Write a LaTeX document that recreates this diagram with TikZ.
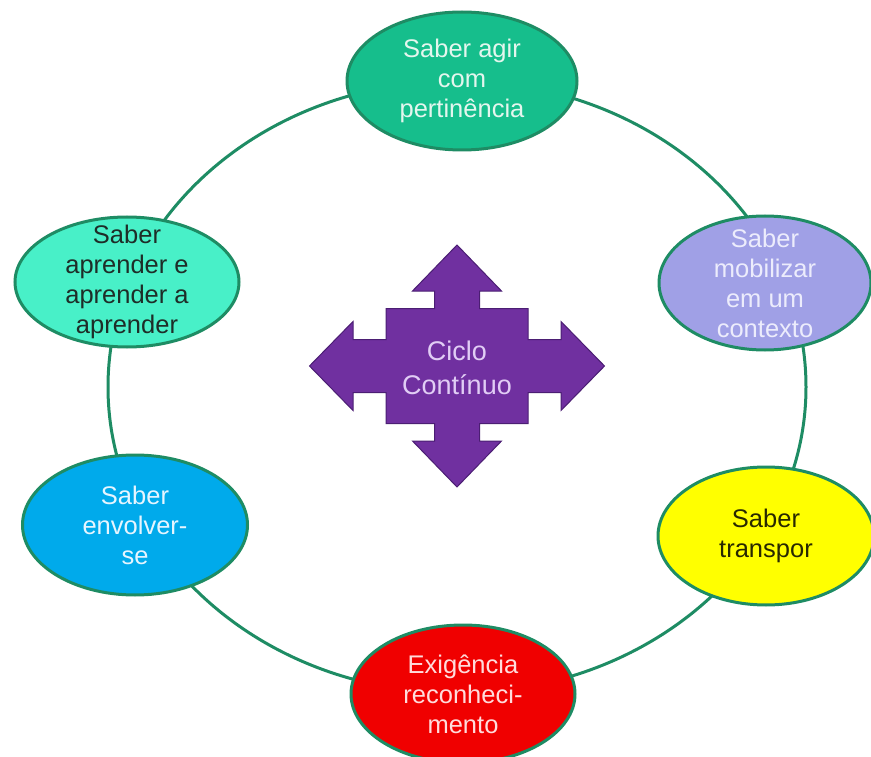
\documentclass[tikz,border=0pt]{standalone}
\usepackage{fontspec}
\setmainfont{Liberation Sans}
\usetikzlibrary{shapes.geometric}
\definecolor{anel}{RGB}{30,140,100}
\definecolor{agir}{RGB}{22,190,140}
\definecolor{aprender}{RGB}{72,240,200}
\definecolor{mobilizar}{RGB}{160,160,230}
\definecolor{envolver}{RGB}{0,170,235}
\definecolor{transpor}{RGB}{255,255,0}
\definecolor{exigencia}{RGB}{240,0,0}
\definecolor{seta}{RGB}{112,48,160}
\definecolor{setaborda}{RGB}{75,30,115}
\definecolor{claro}{RGB}{228,246,238}
\definecolor{escuro}{RGB}{30,45,40}
\tikzset{
  saber/.style={ellipse, draw=anel, line width=3pt, inner sep=0pt},
  rotulo/.style={align=center, font=\fontsize{25.5}{30}\selectfont},
}
\begin{document}
\begin{tikzpicture}[x=1pt,y=-1pt]

  \useasboundingbox (0,0) rectangle (871,757);

  %% ring
  \coordinate (meio) at (457,387);
  \draw[anel, line width=3pt] (meio) ellipse (349pt and 306pt);

  %% quad arrow
  \begin{scope}[shift={(457,366)}]
    \filldraw[fill=seta, draw=setaborda, line width=1pt]
    (0,-121) -- (44.5,-75) -- (22.5,-75) -- (22.5,-57.5) -- (71,-57.5)
    -- (71,-26.5) -- (104,-26.5) -- (104,-44.5) -- (147.5,0) %% right
    -- (104,44.5) -- (104,26.5) -- (71,26.5) -- (71,57.5)
    -- (22.5,57.5) -- (22.5,75) -- (44.5,75) -- (0,121) %% bottom
    -- (-44.5,75) -- (-22.5,75) -- (-22.5,57.5) -- (-71,57.5)
    -- (-71,26.5) -- (-104,26.5) -- (-104,44.5) -- (-147.5,0) %% left
    -- (-104,-44.5) -- (-104,-26.5) -- (-71,-26.5) -- (-71,-57.5)
    -- (-22.5,-57.5) -- (-22.5,-75) -- (-44.5,-75) -- cycle;
    \node[rotulo, font=\fontsize{27}{34}\selectfont,
    text={rgb,255:red,225;green,205;blue,245}] (ciclo) at (0,2)
    {Ciclo\\Contínuo};
  \end{scope}

  %% ellipses
  \node[saber, fill=agir, minimum width=230pt, minimum height=138pt,
  label={[rotulo,text=claro]center:Saber agir\\com\\pertinência}]
  (agir) at (462,81) {};
  \node[saber, fill=mobilizar, minimum width=212pt, minimum height=134pt,
  label={[rotulo,text={rgb,255:red,236;green,236;blue,252}]center:Saber\\mobilizar\\em um\\contexto}]
  (mobilizar) at (765,283) {};
  \node[saber, fill=transpor, minimum width=216pt, minimum height=138pt,
  label={[rotulo,text={rgb,255:red,40;green,40;blue,0}]center:Saber\\transpor}]
  (transpor) at (766,536) {};
  \node[saber, fill=exigencia, minimum width=224pt, minimum height=138pt,
  label={[rotulo,text={rgb,255:red,255;green,220;blue,220}]center:Exigência\\reconheci-\\mento}]
  (exigencia) at (463,694) {};
  \node[saber, fill=envolver, minimum width=225pt, minimum height=140pt,
  label={[rotulo,text={rgb,255:red,230;green,245;blue,255}]center:Saber\\envolver-\\se}]
  (envolver) at (135,525) {};
  \node[saber, fill=aprender, minimum width=224pt, minimum height=130pt,
  label={[rotulo,text=escuro]center:Saber\\aprender e\\aprender a\\aprender}]
  (aprender) at (127,282) {};

\end{tikzpicture}
\end{document}
